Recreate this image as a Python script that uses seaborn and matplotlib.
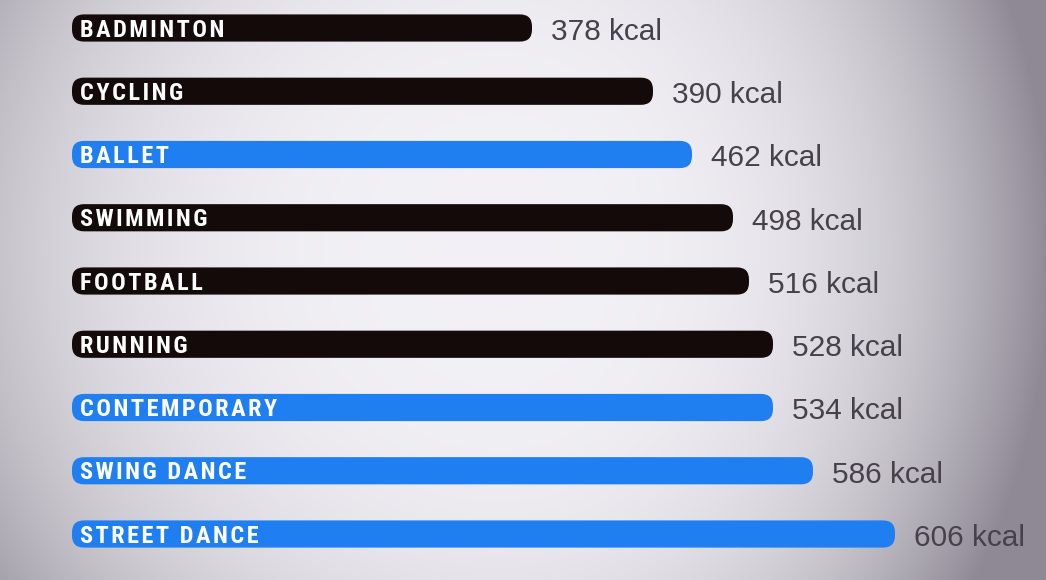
import numpy as np
import pandas as pd
import seaborn as sns
import matplotlib.pyplot as plt
from matplotlib.patches import FancyBboxPatch

# Values shown next to each bar
activities = ['BADMINTON', 'CYCLING', 'BALLET', 'SWIMMING', 'FOOTBALL',
              'RUNNING', 'CONTEMPORARY', 'SWING DANCE', 'STREET DANCE']
kcal = [378, 390, 462, 498, 516, 528, 534, 586, 606]
groups = ['sport', 'sport', 'dance', 'sport', 'sport',
          'sport', 'dance', 'dance', 'dance']
# The original bars are not drawn to scale, so their lengths are read off separately
bar_length = [460, 581, 620, 661, 677, 701, 701, 741, 823]

colors = {'sport': '#140a0a', 'dance': '#1f7ff0'}

df = pd.DataFrame({'activity': activities, 'kcal': kcal,
                   'group': groups, 'length': bar_length})

W, H = 1046, 580
fig = plt.figure(figsize=(W / 100, H / 100), dpi=100)

# Vignette background (darker towards the right edge)
bg = fig.add_axes([0, 0, 1, 1])
yy, xx = np.mgrid[0:H, 0:W]
dx = np.where(xx < 500, (xx - 500) / 660, (xx - 500) / 550)
dy = (yy - 250) / 650
r = np.sqrt(dx ** 2 + dy ** 2)
t = np.clip(r, 0, 1.0) ** 3
light = np.array([0.95, 0.945, 0.965])
dark = np.array([0.56, 0.54, 0.585])
img = light + (dark - light) * t[..., None]
bg.imshow(np.clip(img, 0, 1), extent=[0, 1, 0, 1], aspect='auto')
bg.axis('off')

ax = fig.add_axes([0, 0, 1, 1])
ax.patch.set_alpha(0)

sns.barplot(data=df, x='length', y='activity', hue='group', palette=colors,
            orient='h', width=0.43, dodge=False, legend=False,
            saturation=1, ax=ax)

# swap the plain rectangles for rounded ones
px_per_row = 63.25
for p in list(ax.patches):
    x0, y0, w, h = p.get_x(), p.get_y(), p.get_width(), p.get_height()
    if not np.isfinite(w) or w == 0:
        p.remove()
        continue
    rb = FancyBboxPatch((x0, y0), w, h,
                        boxstyle='round,pad=0,rounding_size=12',
                        mutation_aspect=1 / px_per_row,
                        facecolor=p.get_facecolor(), edgecolor='none')
    p.remove()
    ax.add_patch(rb)

ax.set_xlim(-72, W - 72)
ax.set_ylim((H - 28) / px_per_row, -28 / px_per_row)

def spaced(s):
    return '\u200a'.join(s)

for i, row in df.iterrows():
    ax.text(8, i + 0.035, spaced(row['activity']), color='white',
            fontsize=17.5, fontweight='bold', va='center', ha='left',
            family=['Roboto Condensed', 'Liberation Sans Narrow', 'DejaVu Sans'])
    ax.text(row['length'] + 19, i + 0.06, f"{row['kcal']} kcal",
            color='#46414b', fontsize=21.5, va='center', ha='left',
            family=['Liberation Sans', 'DejaVu Sans'])

ax.axis('off')
fig.savefig('out.png', dpi=100)
